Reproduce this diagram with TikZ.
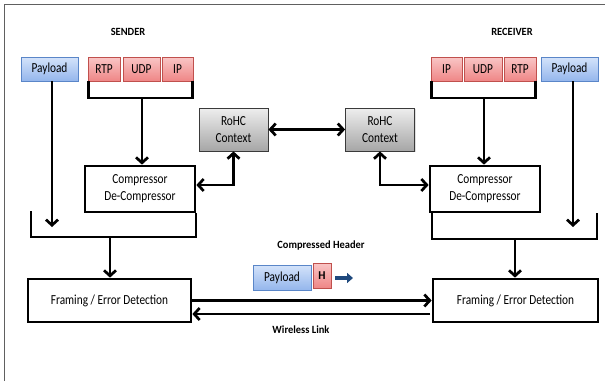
\documentclass[tikz,border=0pt]{standalone}
\usepackage{fontspec}
\setmainfont{Carlito}[FakeStretch=0.82]
\newfontfamily\lblfont{Carlito}[FakeStretch=0.95]
\usetikzlibrary{arrows.meta,shadows}
\definecolor{blueTop}{HTML}{D4E3FA}
\definecolor{blueBot}{HTML}{94B6EC}
\definecolor{blueLine}{HTML}{5A86C8}
\definecolor{redTop}{HTML}{F9C6C6}
\definecolor{redBot}{HTML}{EF8686}
\definecolor{redLine}{HTML}{C0504D}
\definecolor{grayTop}{HTML}{EEEEEE}
\definecolor{grayBot}{HTML}{A6A6A6}
\definecolor{grayLine}{HTML}{3A3A3A}
\definecolor{darkBlue}{HTML}{1F497D}
\definecolor{frameGray}{HTML}{606060}
\begin{document}
\begin{tikzpicture}[x=1pt,y=-1pt,
  txt/.style={font=\fontsize{13.8}{17}\selectfont, align=center, inner sep=0pt},
  lbl/.style={font=\lblfont\bfseries\fontsize{11}{13}\selectfont, inner sep=0pt},
  bluebox/.style={txt, draw=blueLine, line width=0.8pt, top color=blueTop, bottom color=blueBot, minimum height=24pt,
     drop shadow={shadow xshift=1pt, shadow yshift=-1pt, opacity=0.25}},
  redbox/.style={txt, draw=redLine, line width=0.8pt, top color=redTop, bottom color=redBot, minimum height=24pt,
     drop shadow={shadow xshift=1pt, shadow yshift=-1pt, opacity=0.25}},
  graybox/.style={txt, draw=grayLine, line width=0.8pt, top color=grayTop, bottom color=grayBot,
     minimum width=69pt, minimum height=43pt,
     drop shadow={shadow xshift=1pt, shadow yshift=-1pt, opacity=0.25}},
  whitebox/.style={txt, draw=black, line width=2.7pt, fill=white},
  ln/.style={draw=black, line width=2.7pt},
  arr/.style={ln, -{Straight Barb[length=5.5pt,width=12pt]}},
  dbl/.style={ln, {Straight Barb[length=5.5pt,width=12pt]}-{Straight Barb[length=5.5pt,width=12pt]}},
]
\useasboundingbox (0,0) rectangle (605,381);
% outer frame
\draw[frameGray, line width=1pt] (4,381) -- (4,4) -- (605,4);

% labels
\node[lbl] (sendlbl) at (128,32) {SENDER};
\node[lbl] (recvlbl) at (512,32) {RECEIVER};
\node[lbl] (chlbl) at (321,245) {Compressed Header};
\node[lbl] (wllbl) at (301,330) {Wireless Link};

% sender top boxes
\node[bluebox, minimum width=57pt] (spay) at (49.5,69) {Payload};
\node[redbox, minimum width=32pt] (srtp) at (104,69) {RTP};
\node[redbox, minimum width=37pt] (sudp) at (141.5,69) {UDP};
\node[redbox, minimum width=31pt] (sip) at (177.5,69) {IP};

% receiver top boxes
\node[redbox, minimum width=31pt] (rip) at (446.5,69) {IP};
\node[redbox, minimum width=38pt] (rudp) at (483,69) {UDP};
\node[redbox, minimum width=32pt] (rrtp) at (520,69) {RTP};
\node[bluebox, minimum width=57pt] (rpay) at (569.5,69) {Payload};

% RoHC contexts
\node[graybox] (srohc) at (233.5,129.5) {RoHC\\Context};
\node[graybox] (rrohc) at (380,129.5) {RoHC\\Context};

% compressors
\node[whitebox, minimum width=110pt, minimum height=46pt] (scomp) at (140,189) {Compressor\\De-Compressor};
\node[whitebox, minimum width=110pt, minimum height=46pt] (rcomp) at (485,189) {Compressor\\De-Compressor};

% framing
\node[whitebox, minimum width=163pt, minimum height=43pt] (sfram) at (109.5,300.5) {Framing / Error Detection};
\node[whitebox, minimum width=165pt, minimum height=43pt] (rfram) at (515.5,300.5) {Framing / Error Detection};

% compressed packet
\node[bluebox, minimum width=58pt, minimum height=25pt] (cpay) at (282,277.5) {Payload};
\node[redbox, minimum width=18pt, minimum height=25pt, font=\lblfont\bfseries\fontsize{12}{14}\selectfont] (hbox) at (322,275.5) {H};
\coordinate (ca) at (335,278);
\coordinate (cb) at (353,278);
\draw[darkBlue, line width=4pt, -{Triangle[length=6pt,width=10pt]}] (ca) -- (cb);

% sender connections
\coordinate (stb) at (142,98);
\draw[ln] ([xshift=1pt]srtp.south west) -- ([xshift=1pt]srtp.south west |- stb) -- ([xshift=-1pt]sip.south east |- stb) -- ([xshift=-1pt]sip.south east);
\draw[arr] (stb) -- (stb |- scomp.north);
\coordinate (spe) at (52,227);
\draw[arr] (spe |- spay.south) -- (spe);
\coordinate (sbl) at (31,211);
\coordinate (sbm) at (110,237);
\coordinate (sbr) at (196,213);
\draw[ln] (sbl) -- (sbl |- sbm) -- (sbr |- sbm) -- (sbr);
\draw[arr] (sbm) -- (sbm |- sfram.north);
\draw[dbl] ([yshift=4pt]scomp.east) -| (srohc.south);

% contexts link
\draw[dbl] (srohc.east) -- (rrohc.west);

% receiver connections
\coordinate (rtb) at (484,98);
\draw[ln] ([xshift=1pt]rip.south west) -- ([xshift=1pt]rip.south west |- rtb) -- ([xshift=-1pt]rrtp.south east |- rtb) -- ([xshift=-1pt]rrtp.south east);
\draw[arr] (rtb) -- (rtb |- rcomp.north);
\coordinate (rpe) at (573,227);
\draw[arr] (rpe |- rpay.south) -- (rpe);
\coordinate (rbl) at (432,212);
\coordinate (rbm) at (515,239);
\coordinate (rbr) at (597,213);
\draw[ln] (rbl) -- (rbl |- rbm) -- (rbr |- rbm) -- (rbr);
\draw[arr] (rbm) -- (rbm |- rfram.north);
\draw[dbl] (rrohc.south) |- ([yshift=4pt]rcomp.west);

% wireless link
\draw[arr] (sfram.east) -- (sfram.east -| rfram.west);
\coordinate (wl) at (430,314);
\draw[arr] (wl) -- (wl -| sfram.east);
\end{tikzpicture}
\end{document}
